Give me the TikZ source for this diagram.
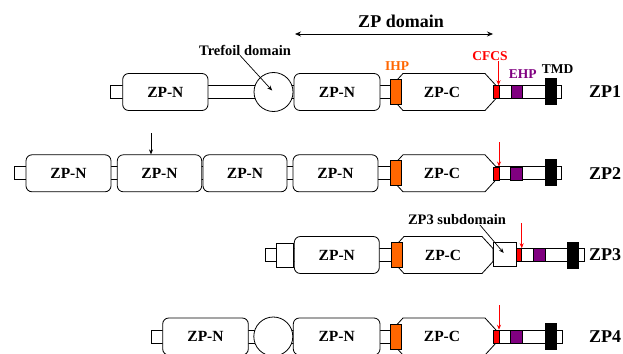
\documentclass[tikz,border=0pt]{standalone}
\usepackage{fontspec}
\setmainfont{Liberation Serif}
\usetikzlibrary{arrows.meta}
\definecolor{ihpc}{RGB}{255,102,0}
\definecolor{ehpc}{RGB}{128,0,128}
\definecolor{cfcsc}{RGB}{255,0,0}
\newcommand\zpcshape[3]{%
  \draw[boxline] (#1+11,#3-18.5) -- (#2-11,#3-18.5) -- (#2,#3-6.5) -- (#2,#3+6.5)
    -- (#2-11,#3+18.5) -- (#1+11,#3+18.5) -- (#1,#3+6.5) -- (#1,#3-6.5) -- cycle;}
\tikzset{
  boxline/.style={draw=black, fill=white, line width=0.8pt},
  spine/.style={boxline, rectangle, inner sep=0pt, minimum height=13pt},
  zpn/.style={boxline, rectangle, rounded corners=6pt, inner sep=0pt, minimum height=37pt,
     font=\fontsize{15.5}{16}\selectfont\bfseries},
  tref/.style={boxline, circle, inner sep=0pt, minimum size=39pt},
  ihpbox/.style={draw=black, fill=ihpc, line width=0.6pt, inner sep=0pt, minimum width=11pt, minimum height=25pt},
  cfcsbox/.style={draw=black, fill=cfcsc, line width=0.5pt, inner sep=0pt, minimum width=6pt, minimum height=13pt},
  ehpbox/.style={draw=black, fill=ehpc, line width=0.5pt, inner sep=0pt, minimum width=11.5pt, minimum height=13pt},
  tmdbox/.style={draw=black, fill=black, inner sep=0pt, minimum width=11.5pt, minimum height=26pt},
  sqbox/.style={boxline, rectangle, inner sep=0pt},
  lbl/.style={inner sep=0pt, font=\fontsize{15.5}{16}\selectfont\bfseries},
  rowlbl/.style={inner sep=0pt, font=\fontsize{18}{20}\selectfont\bfseries},
  small/.style={inner sep=0pt, font=\fontsize{13.5}{15}\selectfont\bfseries},
  note/.style={inner sep=0pt, font=\fontsize{14.5}{16}\selectfont\bfseries},
  arr/.style={-{Stealth[length=5pt,width=4pt]}, line width=0.7pt},
  redarr/.style={arr, draw=cfcsc},
}
\begin{document}
\begin{tikzpicture}[x=1pt, y=-1pt]
\useasboundingbox (0,0) rectangle (623,353);

% ---------- header ----------
\node[rowlbl] (zpdom) at (401,21) {ZP domain};
\coordinate (zpdl) at (295,34);
\coordinate (zpdr) at (493,34);
\draw[{Stealth[length=6pt,width=5pt]}-{Stealth[length=6pt,width=5pt]}, line width=0.7pt] (zpdl) -- (zpdr);

% ---------- ZP1 (y=92) ----------
\node[spine, minimum width=451.7pt] (sp1) at (335.85,92) {};
\node[zpn, minimum width=85.3pt] (n1a) at (165.35,92) {ZP-N};
\node[tref] (tr1) at (273.5,92) {};
\node[zpn, minimum width=86pt] (n1b) at (337,92) {ZP-N};
\zpcshape{392}{496}{92}
\node[lbl] (c1) at (442,92) {ZP-C};
\node[ihpbox] (ihp1) at (396.2,91.5) {};
\node[cfcsbox] (cf1) at (496,92) {};
\node[ehpbox] (eh1) at (516.5,92) {};
\node[tmdbox] (tm1) at (550.8,91) {};
\node[rowlbl] (zp1) at (605,92) {ZP1};

\node[note] (treftxt) at (245,50) {Trefoil domain};
\draw[arr, shorten >=2pt] ([xshift=-5pt]treftxt.south) -- (tr1.center);
\node[small, text=ihpc] (ihptxt) at (397,66) {IHP};
\node[small, text=cfcsc] (cfcstxt) at (490,56) {CFCS};
\node[small, text=ehpc] (ehptxt) at (522.7,74) {EHP};
\node[small] (tmdtxt) at (557.5,68.7) {TMD};
\coordinate (cfa1) at (498.5,61);
\draw[redarr] (cfa1) -- (cfa1 |- cf1.north);

% ---------- ZP2 (y=173.3) ----------
\node[spine, minimum width=547.7pt] (sp2) at (287.85,173.3) {};
\node[zpn, minimum width=85pt] (n2a) at (68.5,173.3) {ZP-N};
\node[zpn, minimum width=84.4pt] (n2b) at (159.5,173.3) {ZP-N};
\node[zpn, minimum width=84pt] (n2c) at (245,173.3) {ZP-N};
\node[zpn, minimum width=85pt] (n2d) at (335.5,173.3) {ZP-N};
\zpcshape{392}{496}{173.3}
\node[lbl] (c2) at (442,173.3) {ZP-C};
\node[ihpbox] (ihp2) at (396.2,172.8) {};
\node[cfcsbox] (cf2) at (496,173.3) {};
\node[ehpbox] (eh2) at (516.2,173.3) {};
\node[tmdbox] (tm2) at (550.5,172.3) {};
\node[rowlbl] (zp2) at (605,173.3) {ZP2};
\coordinate (ka2) at (151,133);
\draw[arr] (ka2) -- (ka2 |- n2b.north);
\coordinate (cfa2) at (499,142);
\draw[redarr] (cfa2) -- (cfa2 |- cf2.north);

% ---------- ZP3 (y=255) ----------
\node[spine, minimum width=319.3pt] (sp3) at (424.65,255) {};
\node[sqbox, minimum width=16.6pt, minimum height=24pt] (nt3) at (285,255) {};
\node[zpn, minimum width=85pt] (n3a) at (336.8,255) {ZP-N};
\zpcshape{393}{493}{255}
\node[lbl] (c3) at (443,255) {ZP-C};
\node[ihpbox] (ihp3) at (397.2,255) {};
\node[sqbox, minimum width=23.4pt, minimum height=24.4pt] (sub3) at (505,254.5) {};
\node[cfcsbox, minimum width=5pt] (cf3) at (519.2,255) {};
\node[ehpbox] (eh3) at (539.2,255) {};
\node[tmdbox] (tm3) at (572.5,255) {};
\node[rowlbl] (zp3) at (605,255) {ZP3};
\node[note] (subtxt) at (457,219.7) {ZP3 subdomain};
\draw[arr, shorten >=2pt] ([xshift=23pt]subtxt.south) -- (sub3.center);
\coordinate (cfa3) at (521.7,223);
\draw[redarr] (cfa3) -- (cfa3 |- cf3.north);

% ---------- ZP4 (y=336.5) ----------
\node[spine, minimum width=410.6pt] (sp4) at (357,336.5) {};
\node[zpn, minimum width=85.6pt] (n4a) at (205.5,336.5) {ZP-N};
\node[tref] (tr4) at (273.3,336.5) {};
\node[zpn, minimum width=86.7pt] (n4b) at (336.65,336.5) {ZP-N};
\zpcshape{392}{496}{336.5}
\node[lbl] (c4) at (442,336.5) {ZP-C};
\node[ihpbox] (ihp4) at (396.2,336.3) {};
\node[cfcsbox] (cf4) at (496.2,336.5) {};
\node[ehpbox] (eh4) at (516.2,336.5) {};
\node[tmdbox] (tm4) at (550.5,336.5) {};
\node[rowlbl] (zp4) at (605,336.5) {ZP4};
\coordinate (cfa4) at (499,305);
\draw[redarr] (cfa4) -- (cfa4 |- cf4.north);
\end{tikzpicture}
\end{document}
